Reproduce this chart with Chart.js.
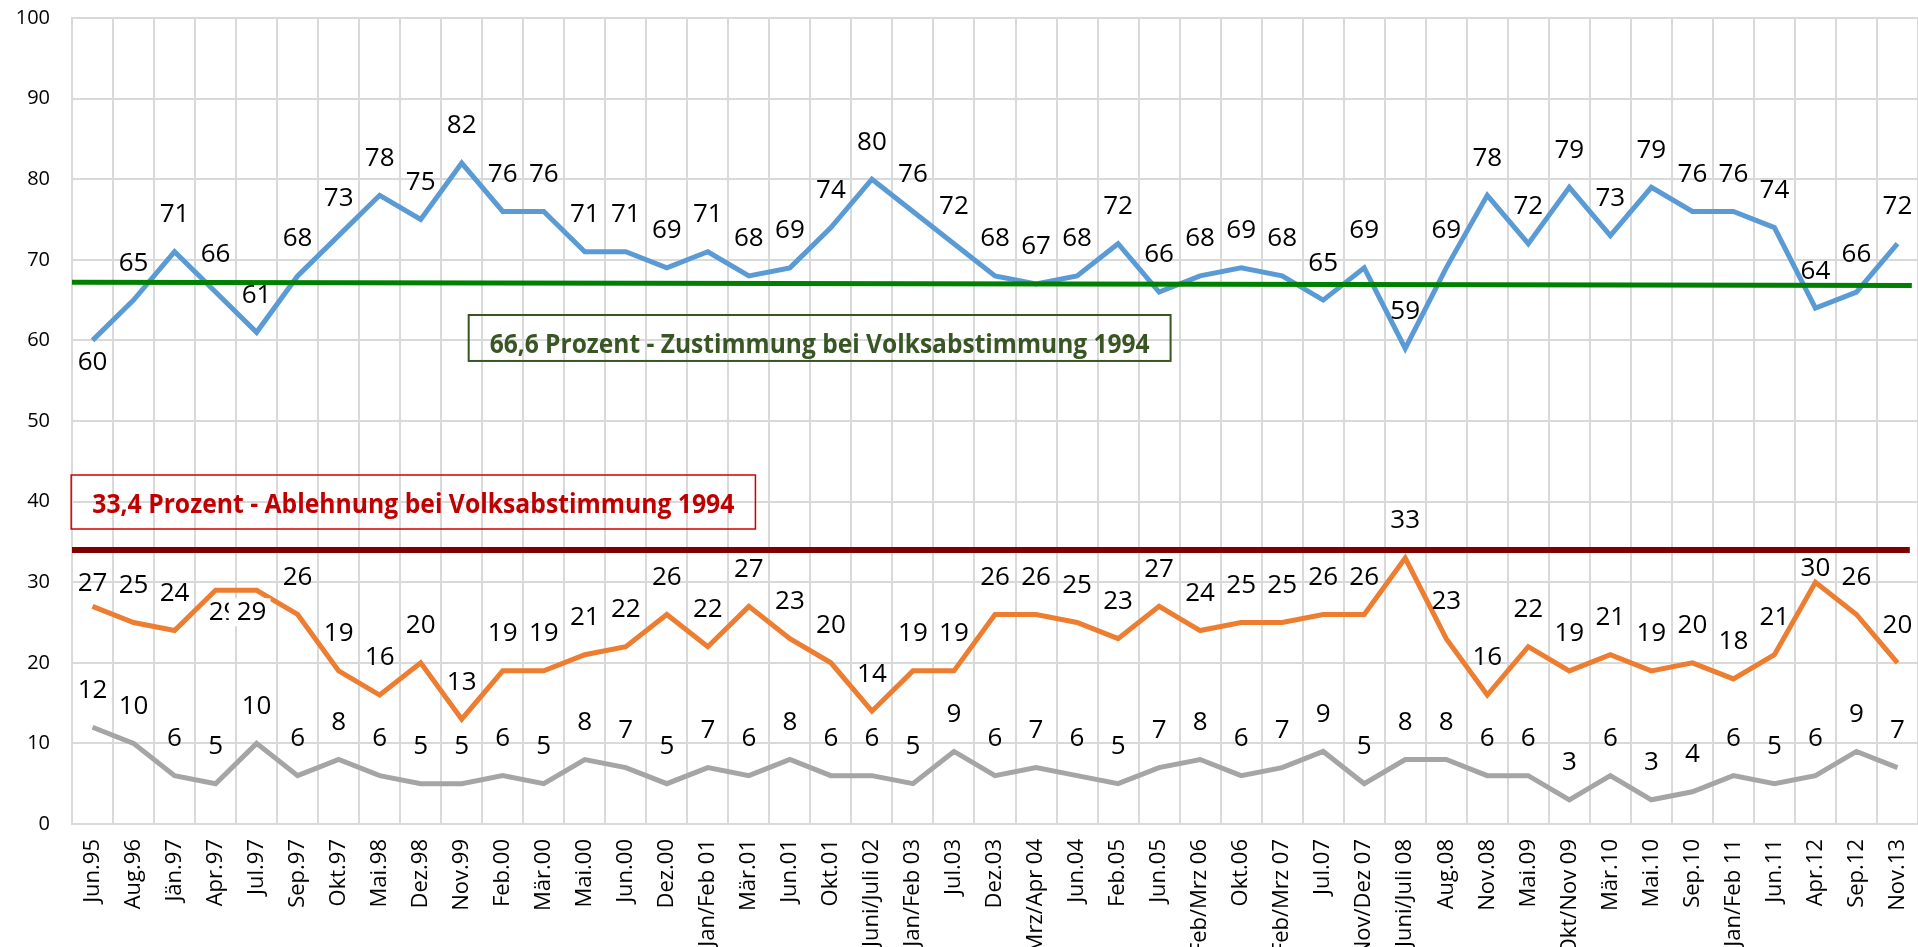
<!DOCTYPE html>
<html>
<head>
<meta charset="utf-8">
<script src="https://cdn.jsdelivr.net/npm/chart.js@4.4.1/dist/chart.umd.min.js"></script>
<style>
html, body { margin: 0; padding: 0; background: #fff; overflow: hidden; }
</style>
</head>
<body>
<canvas id="myChart" width="1918" height="947"></canvas>
<script>
// survey dates
var categories = ["Jun.95", "Aug.96", "Jän.97", "Apr.97", "Jul.97", "Sep.97", "Okt.97", "Mai.98", "Dez.98", "Nov.99",
    "Feb.00", "Mär.00", "Mai.00", "Jun.00", "Dez.00", "Jan/Feb 01", "Mär.01", "Jun.01", "Okt.01", "Juni/Juli 02",
    "Jan/Feb 03", "Jul.03", "Dez.03", "Mrz/Apr 04", "Jun.04", "Feb.05", "Jun.05", "Feb/Mrz 06", "Okt.06", "Feb/Mrz 07",
    "Jul.07", "Nov/Dez 07", "Juni/Juli 08", "Aug.08", "Nov.08", "Mai.09", "Okt/Nov 09", "Mär.10", "Mai.10", "Sep.10",
    "Jan/Feb 11", "Jun.11", "Apr.12", "Sep.12", "Nov.13"];

var zustimmung = [60, 65, 71, 66, 61, 68, 73, 78, 75, 82, 76, 76, 71, 71, 69, 71, 68, 69, 74, 80,
    76, 72, 68, 67, 68, 72, 66, 68, 69, 68, 65, 69, 59, 69, 78, 72, 79, 73, 79, 76, 76, 74, 64, 66, 72];
var ablehnung = [27, 25, 24, 29, 29, 26, 19, 16, 20, 13, 19, 19, 21, 22, 26, 22, 27, 23, 20, 14,
    19, 19, 26, 26, 25, 23, 27, 24, 25, 25, 26, 26, 33, 23, 16, 22, 19, 21, 19, 20, 18, 21, 30, 26, 20];
var weissNicht = [12, 10, 6, 5, 10, 6, 8, 6, 5, 5, 6, 5, 8, 7, 5, 7, 6, 8, 6, 6,
    5, 9, 6, 7, 6, 5, 7, 8, 6, 7, 9, 5, 8, 8, 6, 6, 3, 6, 3, 4, 6, 5, 6, 9, 7];

var yTicks = [0, 10, 20, 30, 40, 50, 60, 70, 80, 90, 100];

// reference lines (1994 vote), start / end
var zustimmungRef = [67.2, 66.8];
var ablehnungRef = [34, 34];

var zustimmungNote = "66,6 Prozent - Zustimmung bei Volksabstimmung 1994";
var ablehnungNote = "33,4 Prozent - Ablehnung bei Volksabstimmung 1994";

// label placement exceptions (default: above the point)
var labelTweaks = {
    "z0": { dy: 22 },
    "a0": { dy: -23 },
    "a3": { dy: 22, dx: 8 },
    "a4": { dy: 22, dx: -5, bg: true },
    "a42": { dy: -14 }
};

var last = categories.length - 1;

var valueLabels = {
    id: 'valueLabels',
    afterDatasetsDraw: function (chart) {
        var ctx = chart.ctx;
        ctx.save();
        ctx.font = '26px "Open Sans"';
        ctx.textAlign = 'center';
        ctx.textBaseline = 'middle';
        chart.data.datasets.forEach(function (ds, di) {
            if (!ds.labelKey) return;
            var meta = chart.getDatasetMeta(di);
            meta.data.forEach(function (pt, i) {
                var tw = labelTweaks[ds.labelKey + i] || {};
                var x = pt.x + (tw.dx || 0);
                var y = pt.y + (tw.dy !== undefined ? tw.dy : -37);
                var txt = String(ds.data[i]);
                if (tw.bg) {
                    var w = ctx.measureText(txt).width;
                    ctx.fillStyle = '#fff';
                    ctx.fillRect(x - w / 2 - 8, y - 14, w + 12, 28);
                }
                ctx.fillStyle = '#000';
                ctx.fillText(txt, x, y);
            });
        });
        ctx.restore();
    }
};

var noteBoxes = {
    id: 'noteBoxes',
    afterDatasetsDraw: function (chart) {
        var ctx = chart.ctx;
        var xs = chart.scales.x2;
        var ys = chart.scales.y;
        function box(x0, x1, v0, v1, base, text, color, border, lw, font, maxW) {
            var l = xs.getPixelForValue(x0), r = xs.getPixelForValue(x1);
            var t = ys.getPixelForValue(v0), b = ys.getPixelForValue(v1);
            ctx.save();
            ctx.strokeStyle = border;
            ctx.lineWidth = lw;
            ctx.strokeRect(l, t, r - l, b - t);
            ctx.fillStyle = color;
            ctx.font = font;
            ctx.textAlign = 'center';
            ctx.textBaseline = 'alphabetic';
            ctx.fillText(text, (l + r) / 2, ys.getPixelForValue(base), maxW);
            ctx.restore();
        }
        box(9.17, 26.28, 63.15, 57.45, 58.44, zustimmungNote, '#375623', '#375623', 2, 'bold 27px "Open Sans"', 660);
        box(-0.52, 16.16, 43.3, 36.6, 38.6, ablehnungNote, '#C00000', '#D00000', 1.5, 'bold 26px "Open Sans"', 642);
    }
};

Chart.defaults.font.family = '"Open Sans", sans-serif';
Chart.defaults.color = '#000';

new Chart("myChart", {
    type: "line",
    data: {
        labels: categories,
        datasets: [{
            data: [{ x: -0.52, y: zustimmungRef[0] }, { x: last + 0.35, y: zustimmungRef[1] }],
            xAxisID: 'x2',
            borderColor: '#008000',
            borderWidth: 5,
            pointRadius: 0,
            order: 0
        }, {
            data: [{ x: -0.52, y: ablehnungRef[0] }, { x: last + 0.3, y: ablehnungRef[1] }],
            xAxisID: 'x2',
            borderColor: '#800000',
            borderWidth: 6,
            pointRadius: 0,
            order: 0
        }, {
            data: zustimmung,
            labelKey: 'z',
            borderColor: '#5B9BD5',
            borderWidth: 5,
            pointRadius: 0,
            tension: 0,
            order: 1
        }, {
            data: ablehnung,
            labelKey: 'a',
            borderColor: '#ED7D31',
            borderWidth: 5,
            pointRadius: 0,
            tension: 0,
            order: 1
        }, {
            data: weissNicht,
            labelKey: 'w',
            borderColor: '#A5A5A5',
            borderWidth: 5,
            pointRadius: 0,
            tension: 0,
            order: 1
        }]
    },
    options: {
        responsive: false,
        animation: false,
        layout: { padding: { top: 18, right: 0, left: 0, bottom: 0 } },
        plugins: {
            legend: { display: false },
            tooltip: { enabled: false }
        },
        scales: {
            x: {
                type: 'category',
                offset: true,
                grid: { offset: true, color: '#d9d9d9', lineWidth: 2, drawTicks: false },
                border: { color: '#d9d9d9', width: 2 },
                ticks: {
                    autoSkip: false,
                    maxRotation: 90,
                    minRotation: 90,
                    padding: 15,
                    font: { size: 22 }
                },
                afterFit: function (scale) {
                    scale.height = 123;
                    scale.paddingLeft = 0;
                    scale.paddingRight = 0;
                }
            },
            x2: {
                type: 'linear',
                display: false,
                min: -0.5,
                max: last + 0.5
            },
            y: {
                min: 0,
                max: 100,
                afterBuildTicks: function (scale) {
                    scale.ticks = yTicks.map(function (v) { return { value: v }; });
                },
                grid: { color: '#d9d9d9', lineWidth: 2, drawTicks: false },
                border: { color: '#d9d9d9', width: 2 },
                ticks: { padding: 22, font: { size: 20 } },
                afterFit: function (scale) {
                    scale.width = 72;
                    scale.paddingTop = 0;
                    scale.paddingBottom = 0;
                }
            }
        }
    },
    plugins: [valueLabels, noteBoxes]
});
</script>
</body>
</html>
